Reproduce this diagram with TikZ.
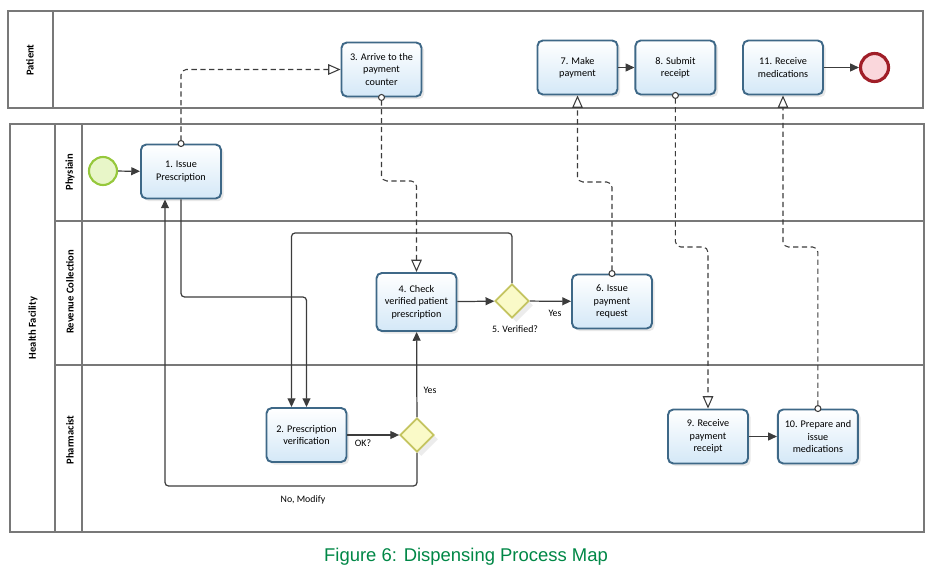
\documentclass[tikz,border=0pt]{standalone}
\usepackage{fontspec}
\setmainfont{Carlito}
\setsansfont{Liberation Sans}
\usetikzlibrary{positioning,shapes.geometric,arrows.meta,shadows}

\definecolor{poolline}{RGB}{120,120,120}
\definecolor{taskline}{RGB}{62,104,135}
\definecolor{taskfill}{RGB}{212,232,247}
\definecolor{gatefill}{RGB}{250,250,200}
\definecolor{gateline}{RGB}{196,196,96}
\definecolor{startfill}{RGB}{232,246,200}
\definecolor{startline}{RGB}{150,200,60}
\definecolor{endfill}{RGB}{250,215,220}
\definecolor{endline}{RGB}{160,30,40}
\definecolor{flowline}{RGB}{60,60,60}
\definecolor{capgreen}{RGB}{0,135,70}

\begin{document}
\begin{tikzpicture}[
  x=0.02cm, y=-0.02cm,
  every node/.style={align=center},
  task/.style={draw=taskline, line width=1.1pt, rounded corners=3pt,
    top color=white, bottom color=taskfill,
    minimum width=1.6cm, minimum height=1.08cm, inner sep=1pt,
    font=\fontsize{5.8}{7}\selectfont,
    drop shadow={opacity=0.18, shadow xshift=1.5pt, shadow yshift=-1.5pt}},
  gate/.style={diamond, draw=gateline, fill=gatefill, line width=1pt,
    minimum width=0.68cm, minimum height=0.68cm, inner sep=0pt,
    drop shadow={opacity=0.15}},
  lane/.style={font=\bfseries\fontsize{6}{7}\selectfont, rotate=90},
  note/.style={font=\fontsize{5.6}{6.5}\selectfont},
  seq/.style={draw=flowline, line width=0.7pt, rounded corners=2pt,
    -{Triangle[length=5pt, width=4.5pt]}},
  msg/.style={draw=flowline, line width=0.6pt, dash pattern=on 3pt off 2pt,
    rounded corners=3pt, shorten <=-2pt,
    {Circle[open, length=4pt, fill=white]}-{Triangle[open, length=7pt, width=6pt, fill=white]}}
]
\useasboundingbox (0,0) rectangle (952,580);

% ── pools and lanes ─────────────────────────────────────────────────
\draw[poolline, line width=1pt] (8,11) rectangle (923,108);
\draw[poolline, line width=1pt] (53,11) -- (53,108);
\node[lane] (lblPatient) at (30,60) {Patient};

\draw[poolline, line width=1pt] (10,124) rectangle (924,532);
\draw[poolline, line width=0.8pt] (55,124) -- (55,532);
\draw[poolline, line width=0.8pt] (82,124) -- (82,532);
\draw[poolline, line width=0.8pt] (55,221) -- (924,221);
\draw[poolline, line width=0.8pt] (55,365) -- (924,365);
\node[lane] (lblFacility) at (33,328) {Health Facility};
\node[lane] (lblPhys) at (70,172) {Physiain};
\node[lane] (lblRev) at (70,292) {Revenue Collection};
\node[lane] (lblPharm) at (70,440) {Pharmacist};

% ── events ──────────────────────────────────────────────────────────
\node[circle, draw=startline, fill=startfill, line width=1.2pt,
  minimum size=0.56cm] (start) at (103,171) {};

% ── tasks ───────────────────────────────────────────────────────────
\node[task] (t1) at (181,171.5) {1. Issue\\Prescription};
\node[task] (t2) at (306.5,435) {2. Prescription\\verification};
\node[task] (t3) at (381.5,69.5) {3. Arrive to the\\payment\\counter};
\node[task, minimum height=1.16cm] (t4) at (416.5,302) {4. Check\\verified patient\\prescription};
\node[gate] (g5) at (512,301) {};
\node[task] (t6) at (612,301.5) {6. Issue\\payment\\request};
\node[task] (t7) at (577.5,67.5) {7. Make\\payment};
\node[task, right=0.32cm of t7] (t8) {8. Submit\\receipt};
\node[task] (t9) at (708,436.5) {9. Receive\\payment\\receipt};
\node[task, right=0.56cm of t9] (t10) {10. Prepare and\\issue\\medications};
\node[task] (t11) at (783,67.5) {11. Receive\\medications};
\node[gate] (gok) at (417,435) {};

\node[circle, draw=endline, fill=endfill, line width=1.8pt,
  minimum size=0.56cm, right=0.7cm of t11] (end) {};

% ── sequence flows ──────────────────────────────────────────────────
\draw[seq] (start) -- (t1);
\draw[seq] (t1.south) -- (t1.south |- 0,297) -| (t2.north);
\draw[seq] (t2) -- (gok);
\draw[seq] (gok) -- (t4);
\draw[seq] (gok.south) -- (gok.south |- 0,486) -| ([xshift=-0.32cm]t1.south);
\draw[seq] (t4) -- (g5);
\draw[seq] (g5) -- (t6);
\draw[seq] (g5.north) -- (g5.north |- 0,233) -| ([xshift=-0.3cm]t2.north);
\draw[seq] (t7) -- (t8);
\draw[seq] (t9) -- (t10);
\draw[seq] (t11) -- (end);

\node[note] (lblOk) at (363,443) {OK?};
\node[note] (lblYes1) at (430,390) {Yes};
\node[note] (lblNo) at (303,500) {No, Modify};
\node[note] (lblYes2) at (555,313) {Yes};
\node[note] (lblVer) at (515,329) {5. Verified?};

% ── message flows ───────────────────────────────────────────────────
\draw[msg] (t1.north) |- (t3.west);
\draw[msg] (t3.south) -- (t3.south |- 0,181) -| (t4.north);
\draw[msg] (t6.north) -- (t6.north |- 0,182) -| (t7.south);
\draw[msg] (t8.south) -- (t8.south |- 0,247) -| (t9.north);
\draw[msg] (t10.north) -- (t10.north |- 0,247) -| (t11.south);

% ── caption ─────────────────────────────────────────────────────────
\node[font=\sffamily\fontsize{10.5}{12}\selectfont, text=capgreen]
  (caption) at (466,557) {Figure 6: Dispensing Process Map};

\end{tikzpicture}
\end{document}
